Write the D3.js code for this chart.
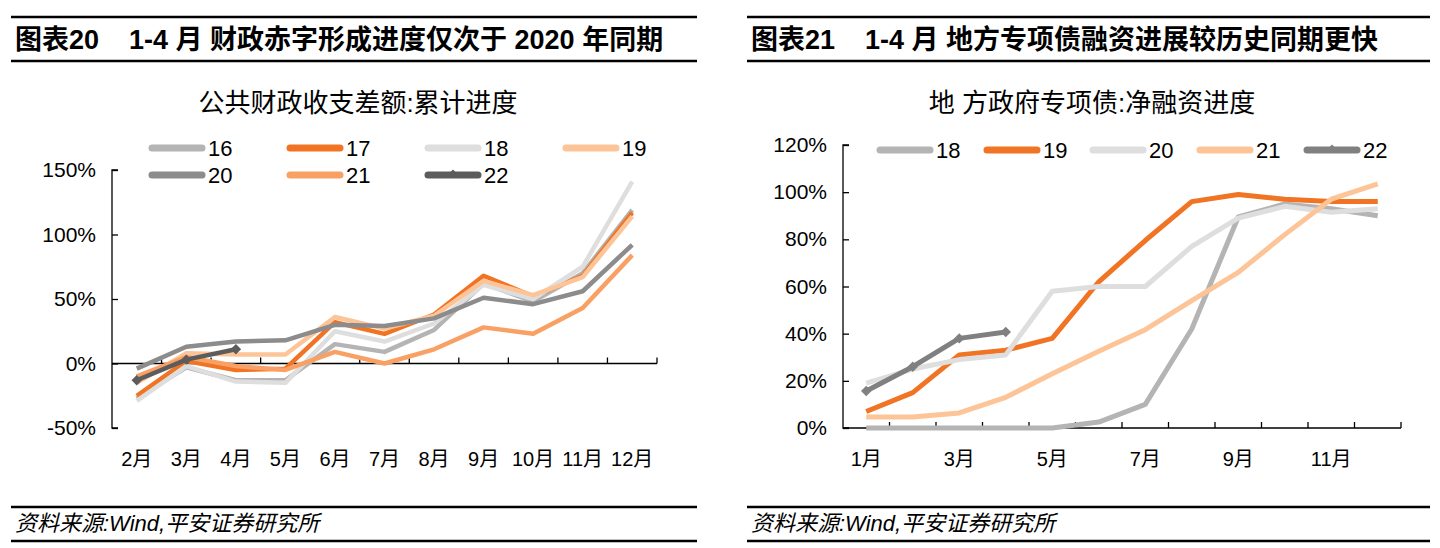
<!DOCTYPE html>
<html>
<head>
<meta charset="utf-8">
<script src="https://cdn.jsdelivr.net/npm/d3@7"></script>
<style>
  body { margin: 0; background: #fff; }
  svg { font-family: "Liberation Sans", "Noto Sans CJK SC", sans-serif; }
</style>
</head>
<body>
<div id="chart"></div>
<script>
// left panel: fiscal deficit cumulative progress (%)
const leftMonths = ['2月', '3月', '4月', '5月', '6月', '7月', '8月', '9月', '10月', '11月', '12月'];
const leftYears = ['16', '17', '18', '19', '20', '21', '22'];
const deficit16 = [-27, -3, -13, -13, 15, 9, 26, 62, 48, 70, 119];
const deficit17 = [-25, 2, -5, -4, 32, 23, 38, 68, 52, 68, 117];
const deficit18 = [-29, -2, -14, -15, 25, 17, 31, 61, 50, 75, 141];
const deficit19 = [-15, 8, 7, 7, 36, 27, 37, 64, 53, 67, 114];
const deficit20 = [-4, 13, 17, 18, 30, 29, 35, 51, 46, 56, 92];
const deficit21 = [-10, 5, -2, -5, 9, 0, 11, 28, 23, 43, 84];
const deficit22 = [-13, 3, 11];
const leftTicks = [-50, 0, 50, 100, 150];

// right panel: special bond net financing progress (%)
const rightMonths = ['1月', '2月', '3月', '4月', '5月', '6月', '7月', '8月', '9月', '10月', '11月', '12月'];
const rightYears = ['18', '19', '20', '21', '22'];
const bond18 = [0, 0, 0, 0, 0, 2.5, 10, 42, 89.5, 95, 93, 90];
const bond19 = [7, 15, 31, 33, 38, 62, 79.5, 96, 99, 97, 96, 96];
const bond20 = [19, 25, 29, 31, 58, 60, 60, 77, 89, 94, 91.5, 93];
const bond21 = [4.7, 4.7, 6.4, 13, 23, 32.5, 41.7, 54, 66, 82, 97, 103.5];
const bond22 = [15.7, 26, 38, 40.7];
const rightTicks = [0, 20, 40, 60, 80, 100, 120];

const svg = d3.select('#chart').append('svg')
  .attr('width', 1440)
  .attr('height', 548);

function rules(x0, x1) {
  [17, 61, 507, 541].forEach(y => {
    svg.append('line')
      .attr('x1', x0).attr('x2', x1).attr('y1', y).attr('y2', y)
      .attr('stroke', '#000').attr('stroke-width', 2.5);
  });
}

function drawPanel(cfg) {
  rules(cfg.x0, cfg.x1);
  svg.append('text')
    .attr('x', cfg.x0 + 4).attr('y', 49)
    .attr('font-size', 27).attr('font-weight', 'bold')
    .attr('xml:space', 'preserve')
    .text(cfg.title);
  svg.append('text')
    .attr('x', cfg.cx).attr('y', 112)
    .attr('text-anchor', 'middle')
    .attr('font-size', 26)
    .text(cfg.subtitle);
  svg.append('text')
    .attr('x', cfg.x0 + 4).attr('y', 531)
    .attr('font-size', 22).attr('font-style', 'italic')
    .text('资料来源:Wind,平安证券研究所');

  const x = d3.scaleBand().domain(cfg.months).range(cfg.xRange);
  const y = d3.scaleLinear().domain(cfg.yDomain).range(cfg.yRange);
  const g = svg.append('g');

  // y axis, ticks pointing inwards
  const ya = g.append('g')
    .attr('transform', `translate(${cfg.xRange[0]},0)`)
    .call(d3.axisRight(y).tickValues(cfg.ticks).tickSize(6).tickFormat(''));
  ya.select('.domain').attr('d', `M6,${y(cfg.yDomain[1])}H0V${y(cfg.yDomain[0])}H6`);
  ya.selectAll('line, path').attr('stroke', '#000').attr('stroke-width', 1.3);
  g.selectAll('.ylab')
    .data(cfg.ticks)
    .enter()
    .append('text')
    .attr('x', cfg.xRange[0] - 16)
    .attr('y', d => y(d) + 7)
    .attr('text-anchor', 'end')
    .attr('font-size', 21)
    .text(d => d + '%');

  // x axis at zero, ticks between categories pointing up
  const bounds = cfg.months.map((m, i) => x(m)).slice(1).concat([cfg.xRange[1]]);
  g.append('line')
    .attr('x1', cfg.xRange[0]).attr('x2', cfg.xRange[1])
    .attr('y1', y(0)).attr('y2', y(0))
    .attr('stroke', '#000').attr('stroke-width', 1.3);
  g.selectAll('.xtick')
    .data(bounds)
    .enter()
    .append('line')
    .attr('x1', d => d).attr('x2', d => d)
    .attr('y1', y(0)).attr('y2', y(0) - 6)
    .attr('stroke', '#000').attr('stroke-width', 1.3);
  g.selectAll('.xlab')
    .data(cfg.months.filter((m, i) => i % cfg.labelStep === 0))
    .enter()
    .append('text')
    .attr('x', d => x(d) + x.bandwidth() / 2)
    .attr('y', 466)
    .attr('text-anchor', 'middle')
    .attr('font-size', 20)
    .text(d => d);

  const line = d3.line()
    .x((d, i) => x(cfg.months[i]) + x.bandwidth() / 2)
    .y(d => y(d));

  cfg.series.forEach((s, k) => {
    g.append('path')
      .datum(s)
      .attr('d', line)
      .attr('fill', 'none')
      .attr('stroke', cfg.colors[k])
      .attr('stroke-width', cfg.lineWidth)
      .attr('stroke-linejoin', 'round');
  });

  // diamonds on the latest year
  const last = cfg.series[cfg.series.length - 1];
  const lastColor = cfg.colors[cfg.colors.length - 1];
  g.selectAll('.dot')
    .data(last)
    .enter()
    .append('path')
    .attr('d', d3.symbol(d3.symbolDiamond2, 70))
    .attr('transform', (d, i) => `translate(${x(cfg.months[i]) + x.bandwidth() / 2},${y(d)})`)
    .attr('fill', lastColor);

  // legend
  cfg.years.forEach((yr, k) => {
    const lx = cfg.legendX[k % cfg.legendCols];
    const ly = cfg.legendY[Math.floor(k / cfg.legendCols)];
    g.append('line')
      .attr('x1', lx).attr('x2', lx + 50)
      .attr('y1', ly).attr('y2', ly)
      .attr('stroke', cfg.colors[k])
      .attr('stroke-width', 7)
      .attr('stroke-linecap', 'round');
    if (k === cfg.years.length - 1) {
      g.append('path')
        .attr('d', d3.symbol(d3.symbolDiamond2, 30))
        .attr('transform', `translate(${lx + 25},${ly - 2})`)
        .attr('fill', cfg.colors[k]);
    }
    g.append('text')
      .attr('x', lx + 56).attr('y', ly + 8)
      .attr('font-size', 22)
      .text(yr);
  });
}

drawPanel({
  x0: 11, x1: 697, cx: 358,
  title: '图表20    1-4 月 财政赤字形成进度仅次于 2020 年同期',
  subtitle: '公共财政收支差额:累计进度',
  months: leftMonths, years: leftYears,
  series: [deficit16, deficit17, deficit18, deficit19, deficit20, deficit21, deficit22],
  colors: ['#b4b4b4', '#f07424', '#dedede', '#fcc497', '#8c8c8c', '#f9a064', '#5c5c5c'],
  xRange: [112, 657], yDomain: [-50, 150], yRange: [428, 170],
  ticks: leftTicks, labelStep: 1, lineWidth: 4.5,
  legendX: [152, 290, 428, 566], legendY: [148, 175], legendCols: 4
});

drawPanel({
  x0: 747, x1: 1430, cx: 1092,
  title: '图表21    1-4 月 地方专项债融资进展较历史同期更快',
  subtitle: '地 方政府专项债:净融资进度',
  months: rightMonths, years: rightYears,
  series: [bond18, bond19, bond20, bond21, bond22],
  colors: ['#b4b4b4', '#f07424', '#dedede', '#fcc497', '#808080'],
  xRange: [843, 1401], yDomain: [0, 120], yRange: [428, 145],
  ticks: rightTicks, labelStep: 2, lineWidth: 5,
  legendX: [880, 987, 1093, 1200, 1307], legendY: [150], legendCols: 5
});
</script>
</body>
</html>
